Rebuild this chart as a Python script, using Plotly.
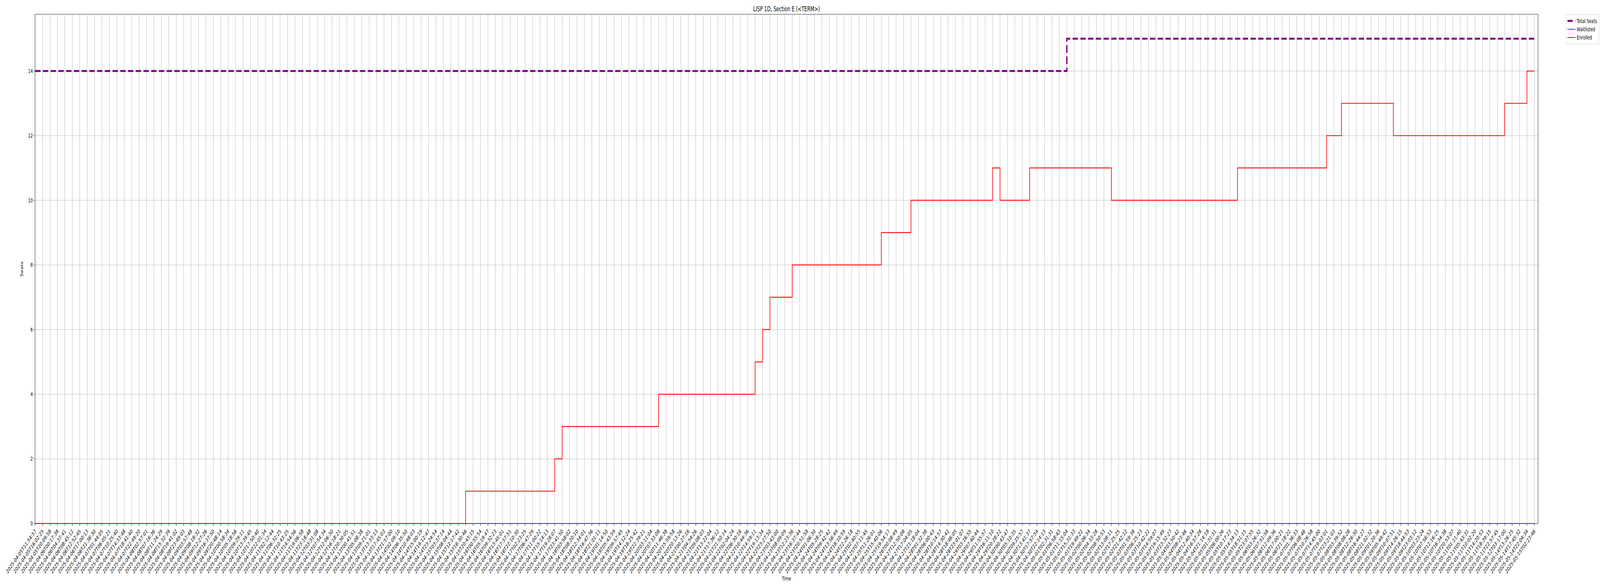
import plotly.graph_objects as go

times = [
    "2025-04-05T11:54:57", "2025-04-05T16:02:25", "2025-04-05T20:09:58", "2025-04-06T00:17:38",
    "2025-04-06T04:37:41", "2025-04-06T08:45:12", "2025-04-06T12:52:45", "2025-04-06T17:00:13",
    "2025-04-06T21:36:30", "2025-04-07T01:44:05", "2025-04-07T06:05:21", "2025-04-07T10:25:40",
    "2025-04-07T14:33:48", "2025-04-07T18:41:40", "2025-04-07T22:49:20", "2025-04-08T02:57:01",
    "2025-04-08T07:16:36", "2025-04-08T11:24:29", "2025-04-08T15:32:39", "2025-04-08T19:41:02",
    "2025-04-08T23:49:03", "2025-04-09T03:57:48", "2025-04-09T08:18:32", "2025-04-09T12:27:26",
    "2025-04-09T16:37:50", "2025-04-09T20:48:14", "2025-04-10T00:58:34", "2025-04-10T05:18:56",
    "2025-04-10T09:29:11", "2025-04-10T13:39:45", "2025-04-10T17:50:40", "2025-04-10T22:01:34",
    "2025-04-11T02:12:44", "2025-04-11T06:32:25", "2025-04-11T10:43:25", "2025-04-11T14:54:56",
    "2025-04-11T19:06:58", "2025-04-11T23:18:48", "2025-04-12T03:31:08", "2025-04-12T07:54:34",
    "2025-04-12T12:06:30", "2025-04-12T16:18:21", "2025-04-12T20:30:05", "2025-04-13T00:41:51",
    "2025-04-13T05:08:38", "2025-04-13T09:21:01", "2025-04-13T13:33:13", "2025-04-13T17:45:03",
    "2025-04-13T21:57:00", "2025-04-14T02:09:10", "2025-04-14T06:35:50", "2025-04-14T10:48:03",
    "2025-04-14T15:00:19", "2025-04-14T19:12:47", "2025-04-14T23:24:54", "2025-04-15T03:37:14",
    "2025-04-15T08:04:44", "2025-04-15T12:17:42", "2025-04-15T16:30:46", "2025-04-15T20:43:15",
    "2025-04-16T00:55:54", "2025-04-16T05:19:47", "2025-04-16T09:32:23", "2025-04-16T13:45:01",
    "2025-04-16T17:57:51", "2025-04-16T22:10:30", "2025-04-17T02:23:25", "2025-04-17T06:47:29",
    "2025-04-17T11:00:22", "2025-04-17T15:14:13", "2025-04-17T19:28:07", "2025-04-17T23:41:50",
    "2025-04-18T03:58:02", "2025-04-18T08:20:10", "2025-04-18T12:34:01", "2025-04-18T16:47:36",
    "2025-04-18T21:01:11", "2025-04-19T01:14:50", "2025-04-19T05:43:59", "2025-04-19T09:57:45",
    "2025-04-19T14:12:24", "2025-04-19T18:25:42", "2025-04-19T22:39:21", "2025-04-20T03:11:04",
    "2025-04-20T07:33:08", "2025-04-20T11:46:38", "2025-04-20T15:59:58", "2025-04-20T20:13:26",
    "2025-04-21T00:27:16", "2025-04-21T04:54:26", "2025-04-21T09:08:03", "2025-04-21T13:22:04",
    "2025-04-21T17:36:12", "2025-04-21T21:50:14", "2025-04-22T02:04:24", "2025-04-22T06:30:16",
    "2025-04-22T10:44:36", "2025-04-22T14:59:11", "2025-04-22T19:13:34", "2025-04-22T23:27:50",
    "2025-04-23T03:43:00", "2025-04-23T08:09:09", "2025-04-23T12:23:36", "2025-04-23T16:37:44",
    "2025-04-23T20:51:58", "2025-04-24T01:06:30", "2025-04-24T05:28:25", "2025-04-24T09:42:42",
    "2025-04-24T13:56:49", "2025-04-24T18:10:59", "2025-04-24T22:26:18", "2025-04-25T02:40:55",
    "2025-04-25T07:11:45", "2025-04-25T11:26:01", "2025-04-25T15:40:06", "2025-04-25T19:54:17",
    "2025-04-26T00:08:49", "2025-04-27T12:50:08", "2025-04-27T17:04:05", "2025-04-27T21:18:04",
    "2025-04-28T01:32:38", "2025-04-28T06:00:43", "2025-04-28T10:14:57", "2025-04-28T14:30:42",
    "2025-04-28T18:46:05", "2025-04-28T23:01:07", "2025-04-29T03:16:55", "2025-04-29T07:40:44",
    "2025-04-29T11:55:57", "2025-04-29T16:11:10", "2025-04-29T20:28:22", "2025-04-30T00:43:47",
    "2025-04-30T05:10:35", "2025-04-30T09:25:57", "2025-04-30T13:41:37", "2025-04-30T17:57:54",
    "2025-04-30T22:14:13", "2025-05-01T02:31:31", "2025-05-01T06:58:43", "2025-05-01T11:15:04",
    "2025-05-01T15:31:33", "2025-05-01T19:49:22", "2025-05-02T00:06:34", "2025-05-02T04:33:28",
    "2025-05-02T08:50:53", "2025-05-02T13:08:11", "2025-05-02T17:25:25", "2025-05-02T21:42:12",
    "2025-05-03T01:59:38", "2025-05-03T06:25:23", "2025-05-03T10:42:22", "2025-05-03T14:59:07",
    "2025-05-03T19:15:49", "2025-05-03T23:32:27", "2025-05-04T03:50:42", "2025-05-04T08:23:46",
    "2025-05-04T12:40:34", "2025-05-04T16:57:28", "2025-05-04T21:14:18", "2025-05-05T01:31:31",
    "2025-05-05T06:00:26", "2025-05-05T10:17:23", "2025-05-05T14:34:13", "2025-05-05T18:51:15",
    "2025-05-05T23:07:55", "2025-05-06T03:26:32", "2025-05-06T07:51:58", "2025-05-06T12:09:36",
    "2025-05-06T17:00:21", "2025-05-06T21:18:22", "2025-05-07T01:36:33", "2025-05-07T06:08:46",
    "2025-05-07T10:26:58", "2025-05-07T14:45:00", "2025-05-07T19:03:01", "2025-05-07T23:21:03",
    "2025-05-08T03:39:52", "2025-05-08T08:08:28", "2025-05-08T12:26:30", "2025-05-08T16:44:27",
    "2025-05-08T21:02:32", "2025-05-09T01:20:36", "2025-05-09T05:49:42", "2025-05-09T10:07:51",
    "2025-05-09T14:26:15", "2025-05-09T18:44:53", "2025-05-09T23:03:12", "2025-05-10T03:23:24",
    "2025-05-10T07:56:53", "2025-05-10T12:16:25", "2025-05-10T16:34:38", "2025-05-10T20:53:07",
    "2025-05-11T01:11:40", "2025-05-11T05:43:31", "2025-05-11T10:02:20", "2025-05-11T14:20:53",
    "2025-05-11T18:39:15", "2025-05-11T22:57:45", "2025-05-12T03:17:00", "2025-05-14T13:26:25",
    "2025-05-14T17:45:32", "2025-05-14T22:04:34", "2025-05-15T02:23:46",
]

# 203 readings each (10 per row)
total_seats = [
    14, 14, 14, 14, 14, 14, 14, 14, 14, 14,
    14, 14, 14, 14, 14, 14, 14, 14, 14, 14,
    14, 14, 14, 14, 14, 14, 14, 14, 14, 14,
    14, 14, 14, 14, 14, 14, 14, 14, 14, 14,
    14, 14, 14, 14, 14, 14, 14, 14, 14, 14,
    14, 14, 14, 14, 14, 14, 14, 14, 14, 14,
    14, 14, 14, 14, 14, 14, 14, 14, 14, 14,
    14, 14, 14, 14, 14, 14, 14, 14, 14, 14,
    14, 14, 14, 14, 14, 14, 14, 14, 14, 14,
    14, 14, 14, 14, 14, 14, 14, 14, 14, 14,
    14, 14, 14, 14, 14, 14, 14, 14, 14, 14,
    14, 14, 14, 14, 14, 14, 14, 14, 14, 14,
    14, 14, 14, 14, 14, 14, 14, 14, 14, 14,
    14, 14, 14, 14, 14, 14, 14, 14, 14, 15,
    15, 15, 15, 15, 15, 15, 15, 15, 15, 15,
    15, 15, 15, 15, 15, 15, 15, 15, 15, 15,
    15, 15, 15, 15, 15, 15, 15, 15, 15, 15,
    15, 15, 15, 15, 15, 15, 15, 15, 15, 15,
    15, 15, 15, 15, 15, 15, 15, 15, 15, 15,
    15, 15, 15, 15, 15, 15, 15, 15, 15, 15,
    15, 15, 15,
]

waitlisted = [
    0, 0, 0, 0, 0, 0, 0, 0, 0, 0,
    0, 0, 0, 0, 0, 0, 0, 0, 0, 0,
    0, 0, 0, 0, 0, 0, 0, 0, 0, 0,
    0, 0, 0, 0, 0, 0, 0, 0, 0, 0,
    0, 0, 0, 0, 0, 0, 0, 0, 0, 0,
    0, 0, 0, 0, 0, 0, 0, 0, 0, 0,
    0, 0, 0, 0, 0, 0, 0, 0, 0, 0,
    0, 0, 0, 0, 0, 0, 0, 0, 0, 0,
    0, 0, 0, 0, 0, 0, 0, 0, 0, 0,
    0, 0, 0, 0, 0, 0, 0, 0, 0, 0,
    0, 0, 0, 0, 0, 0, 0, 0, 0, 0,
    0, 0, 0, 0, 0, 0, 0, 0, 0, 0,
    0, 0, 0, 0, 0, 0, 0, 0, 0, 0,
    0, 0, 0, 0, 0, 0, 0, 0, 0, 0,
    0, 0, 0, 0, 0, 0, 0, 0, 0, 0,
    0, 0, 0, 0, 0, 0, 0, 0, 0, 0,
    0, 0, 0, 0, 0, 0, 0, 0, 0, 0,
    0, 0, 0, 0, 0, 0, 0, 0, 0, 0,
    0, 0, 0, 0, 0, 0, 0, 0, 0, 0,
    0, 0, 0, 0, 0, 0, 0, 0, 0, 0,
    0, 0, 0,
]

enrolled = [
    0, 0, 0, 0, 0, 0, 0, 0, 0, 0,       # 0-9
    0, 0, 0, 0, 0, 0, 0, 0, 0, 0,       # 10-19
    0, 0, 0, 0, 0, 0, 0, 0, 0, 0,       # 20-29
    0, 0, 0, 0, 0, 0, 0, 0, 0, 0,       # 30-39
    0, 0, 0, 0, 0, 0, 0, 0, 0, 0,       # 40-49
    0, 0, 0, 0, 0, 0, 0, 0, 1, 1,       # 50-59
    1, 1, 1, 1, 1, 1, 1, 1, 1, 1,       # 60-69
    2, 3, 3, 3, 3, 3, 3, 3, 3, 3,       # 70-79
    3, 3, 3, 3, 4, 4, 4, 4, 4, 4,       # 80-89
    4, 4, 4, 4, 4, 4, 4, 5, 6, 7,       # 90-99
    7, 7, 8, 8, 8, 8, 8, 8, 8, 8,       # 100-109
    8, 8, 8, 8, 9, 9, 9, 9, 10, 10,     # 110-119
    10, 10, 10, 10, 10, 10, 10, 10, 10, 11,  # 120-129
    10, 10, 10, 10, 11, 11, 11, 11, 11, 11,  # 130-139
    11, 11, 11, 11, 11, 10, 10, 10, 10, 10,  # 140-149
    10, 10, 10, 10, 10, 10, 10, 10, 10, 10,  # 150-159
    10, 10, 11, 11, 11, 11, 11, 11, 11, 11,  # 160-169
    11, 11, 11, 11, 12, 12, 13, 13, 13, 13,  # 170-179
    13, 13, 13, 12, 12, 12, 12, 12, 12, 12,  # 180-189
    12, 12, 12, 12, 12, 12, 12, 12, 13, 13,  # 190-199
    13, 14, 14,                              # 200-202
]

FONT = "DejaVu Sans"
W, H = 6000, 1500

fig = go.Figure()
fig.add_trace(go.Scatter(
    x=times, y=total_seats, name="Total Seats", mode="lines",
    line=dict(color="#800080", width=5, dash="20px,9px", shape="hv"),
))
fig.add_trace(go.Scatter(
    x=times, y=waitlisted, name="Waitlisted", mode="lines",
    line=dict(color="#0000ff", width=1.4, shape="hv"),
))
fig.add_trace(go.Scatter(
    x=times, y=enrolled, name="Enrolled", mode="lines",
    line=dict(color="#ff0000", width=2.2, shape="hv"),
))

fig.update_layout(
    width=W, height=H,
    margin=dict(l=132, r=233, t=37, b=160, autoexpand=False),
    paper_bgcolor="white", plot_bgcolor="white",
    font=dict(family=FONT, size=14, color="black"),
    title=dict(text="LISP 1D, Section E (&lt;TERM&gt;)", x=0.5, xref="paper",
               xanchor="center", y=1 - 23 / H, yref="container", yanchor="middle",
               font=dict(family=FONT, size=17, color="black")),
    showlegend=True,
    legend=dict(xref="container", yref="container", x=5872 / W, y=1 - 37 / H,
                xanchor="left", yanchor="top", bgcolor="white",
                bordercolor="#cccccc", borderwidth=1,
                font=dict(family=FONT, size=14, color="black"),
                tracegroupgap=0, itemwidth=30),
)

fig.update_xaxes(
    type="category", range=[0, 202.47],
    tickmode="linear", tick0=0, dtick=1,
    tickangle=-45, ticks="outside", ticklen=5, tickwidth=1, tickcolor="black",
    tickfont=dict(family=FONT, size=14, color="black"),
    showgrid=True, gridcolor="#b0b0b0", gridwidth=1.1,
    showline=True, linecolor="black", linewidth=1.1, mirror=True,
    zeroline=False,
    title=dict(text="Time", standoff=6, font=dict(family=FONT, size=14, color="black")),
)
fig.update_yaxes(
    range=[0, 15.75], tickmode="linear", tick0=0, dtick=2,
    ticks="outside", ticklen=5, tickwidth=1, tickcolor="black",
    tickfont=dict(family=FONT, size=14, color="black"),
    showgrid=True, gridcolor="#b0b0b0", gridwidth=1.1,
    showline=True, linecolor="black", linewidth=1.1, mirror=True,
    zeroline=False,
    title=dict(text="Seats", standoff=14, font=dict(family=FONT, size=14, color="black")),
)

# Fit the fixed 6000x1500 figure into the browser window if the window is smaller.
fit_js = """
document.body.style.margin = '0';
document.body.style.overflow = 'hidden';
var gd = document.getElementById('{plot_id}');
var sx = Math.min(1, window.innerWidth / %d);
var sy = Math.min(1, window.innerHeight / %d);
if (sx < 1 || sy < 1) {
    gd.style.transformOrigin = '0 0';
    gd.style.transform = 'scale(' + sx + ',' + sy + ')';
}
""" % (W, H)

fig.write_html("out.html", config={"displayModeBar": False}, post_script=fit_js)
